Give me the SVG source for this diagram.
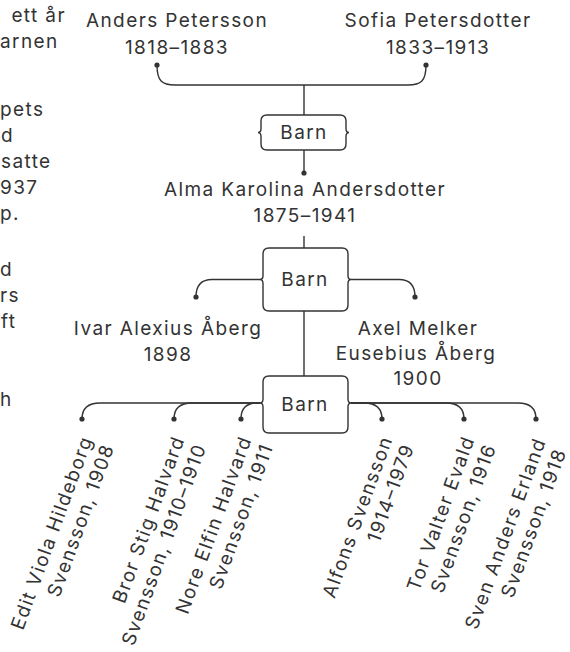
<svg xmlns="http://www.w3.org/2000/svg" width="570" height="652" viewBox="0 0 570 652">
<style>
  text { font-family: Inter, "Open Sans", "DejaVu Sans", sans-serif; font-size: 19px; fill: #333; letter-spacing: 1.4px; }
  .c { text-anchor: middle; }
  .e { text-anchor: end; }
  .box { fill: #fff; stroke: #333; stroke-width: 1.4; }
  .ln { fill: none; stroke: #333; stroke-width: 1.4; }
</style>
<defs>
  <marker id="dot" markerUnits="userSpaceOnUse" markerWidth="6" markerHeight="6" refX="3" refY="3" orient="auto">
    <circle cx="3" cy="3" r="2.6" fill="#333"/>
  </marker>
</defs>
<rect width="570" height="652" fill="#fff"/>

<g id="side-text">
  <text class="e" x="66" y="22">ett år</text>
  <text x="0" y="48">arnen</text>
  <text x="0" y="116">pets</text>
  <text x="1" y="142">d</text>
  <text x="1" y="168">satte</text>
  <text x="0" y="194">937</text>
  <text x="0" y="220">p.</text>
  <text x="0" y="276">d</text>
  <text x="0" y="302">rs</text>
  <text x="1" y="328">ft</text>
  <text x="0" y="406">h</text>
</g>

<g id="connectors">
  <path class="ln" d="M 304 85 H 175 C 162 85 157 81 157 65" marker-end="url(#dot)"/>
  <path class="ln" d="M 304 85 H 408 C 421 85 426 81 426 65" marker-end="url(#dot)"/>
  <path class="ln" d="M 304 85 V 115"/>
  <path class="ln" d="M 304 150 V 173" marker-end="url(#dot)"/>
  <path class="ln" d="M 304 236 V 248"/>
  <path class="ln" d="M 260 279.5 H 212 Q 196 279.5 196 297" marker-end="url(#dot)"/>
  <path class="ln" d="M 351 279.5 H 399 Q 415 279.5 415 297" marker-end="url(#dot)"/>
  <path class="ln" d="M 304 311 V 376"/>
  <path class="ln" d="M 260 403 H 100 Q 82 403 82 419" marker-end="url(#dot)"/>
  <path class="ln" d="M 260 403 H 192 Q 174 403 174 419" marker-end="url(#dot)"/>
  <path class="ln" d="M 260 403 H 257 Q 241 403 241 419" marker-end="url(#dot)"/>
  <path class="ln" d="M 351 403 H 364 Q 382 403 382 419" marker-end="url(#dot)"/>
  <path class="ln" d="M 351 403 H 446 Q 464 403 464 419" marker-end="url(#dot)"/>
  <path class="ln" d="M 351 403 H 518 Q 536 403 536 419" marker-end="url(#dot)"/>
</g>

<g id="anders">
  <text class="c" x="177" y="27">Anders Petersson</text>
  <text class="c" x="177" y="54">1818–1883</text>
</g>
<g id="sofia">
  <text class="c" x="438" y="27">Sofia Petersdotter</text>
  <text class="c" x="438" y="54">1833–1913</text>
</g>
<g id="barn1">
  <path class="box" d="M 267 115 H 340 Q 346 115 346 121 V 128.5 Q 346 132.5 349 132.5 Q 346 132.5 346 136.5 V 144 Q 346 150 340 150 H 267 Q 261 150 261 144 V 136.5 Q 261 132.5 258 132.5 Q 261 132.5 261 128.5 V 121 Q 261 115 267 115 Z"/>
  <text class="c" x="304" y="139">Barn</text>
</g>
<g id="alma">
  <text class="c" x="305" y="196">Alma Karolina Andersdotter</text>
  <text class="c" x="305" y="222">1875–1941</text>
</g>
<g id="barn2">
  <path class="box" d="M 269 248 H 342 Q 348 248 348 254 V 275.5 Q 348 279.5 351 279.5 Q 348 279.5 348 283.5 V 305 Q 348 311 342 311 H 269 Q 263 311 263 305 V 283.5 Q 263 279.5 260 279.5 Q 263 279.5 263 275.5 V 254 Q 263 248 269 248 Z"/>
  <text class="c" x="305" y="286">Barn</text>
</g>
<g id="ivar">
  <text class="c" x="168" y="335">Ivar Alexius Åberg</text>
  <text class="c" x="168" y="361">1898</text>
</g>
<g id="axel">
  <text class="c" x="418" y="335">Axel Melker</text>
  <text class="c" x="416" y="360">Eusebius Åberg</text>
  <text class="c" x="418" y="385">1900</text>
</g>
<g id="barn3">
  <path class="box" d="M 269 376 H 342 Q 348 376 348 382 V 399 Q 348 403 351 403 Q 348 403 348 407 V 427 Q 348 433 342 433 H 269 Q 263 433 263 427 V 407 Q 263 403 260 403 Q 263 403 263 399 V 382 Q 263 376 269 376 Z"/>
  <text class="c" x="305" y="411">Barn</text>
</g>

<g id="edit" transform="translate(82 419) rotate(-70)">
  <text class="e" x="-15" y="17">Edit Viola Hildeborg</text>
  <text class="e" x="-15" y="40">Svensson, 1908</text>
</g>
<g id="bror" transform="translate(174 419) rotate(-70)">
  <text class="e" x="-15" y="17">Bror Stig Halvard</text>
  <text class="e" x="-15" y="40">Svensson, 1910–1910</text>
</g>
<g id="nore" transform="translate(241 419) rotate(-70)">
  <text class="e" x="-15" y="17">Nore Elfin Halvard</text>
  <text class="e" x="-15" y="40">Svensson, 1911</text>
</g>
<g id="alfons" transform="translate(382 419) rotate(-70)">
  <text class="e" x="-15" y="17">Alfons Svensson</text>
  <text class="e" x="-15" y="40">1914–1979</text>
</g>
<g id="tor" transform="translate(464 419) rotate(-70)">
  <text class="e" x="-15" y="17">Tor Valter Evald</text>
  <text class="e" x="-15" y="40">Svensson, 1916</text>
</g>
<g id="sven" transform="translate(536 419) rotate(-70)">
  <text class="e" x="-17" y="17">Sven Anders Erland</text>
  <text class="e" x="-20" y="40">Svensson, 1918</text>
</g>
</svg>
